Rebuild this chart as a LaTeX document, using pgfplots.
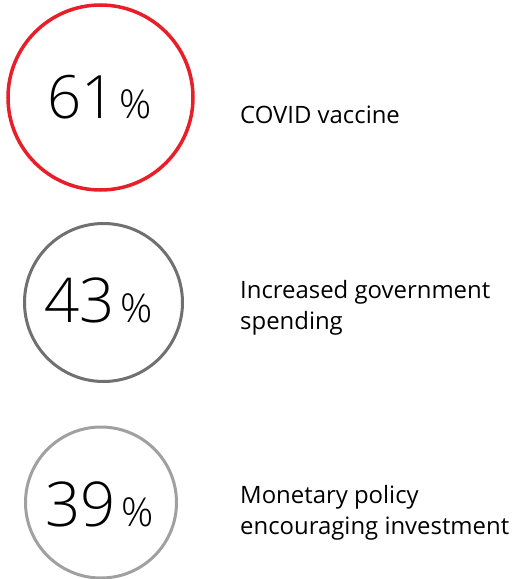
\documentclass[border=0pt]{standalone}
\usepackage{pgfplots}
\pgfplotsset{compat=1.18}
\usepackage{fontspec}
\setmainfont{Open Sans}
\newfontfamily\lightfont{Open Sans Light}
\definecolor{cred}{RGB}{232,30,40}
\definecolor{cdark}{RGB}{112,112,112}
\definecolor{clight}{RGB}{160,160,160}
\begin{document}
\begin{tikzpicture}
\useasboundingbox (0,0) rectangle (516bp,579bp);
\begin{axis}[at={(0,0)},anchor=south west,
  width=516bp,height=579bp,scale only axis,
  xmin=0,xmax=516,ymin=0,ymax=579,y dir=reverse,
  hide axis,clip=false]
\addplot[only marks,mark=o,mark size=92.5bp,draw=cred,line width=3.5bp] coordinates {(100.5,97.5)};
\addplot[only marks,mark=o,mark size=79bp,draw=cdark,line width=3bp] coordinates {(103.5,302.5)};
\addplot[only marks,mark=o,mark size=75.5bp,draw=clight,line width=3bp] coordinates {(101,502.5)};
\node[anchor=base west,inner sep=0pt] at (axis cs:47,118) {\lightfont\fontsize{60}{60}\selectfont 61\hspace{4bp}{\fontsize{40}{40}\selectfont\%}};
\node[anchor=base west,inner sep=0pt] at (axis cs:44,322) {\lightfont\fontsize{62}{60}\selectfont 43\hspace{6bp}{\fontsize{40}{40}\selectfont\%}};
\node[anchor=base west,inner sep=0pt] at (axis cs:45,526) {\lightfont\fontsize{62}{60}\selectfont 39\hspace{6bp}{\fontsize{40}{40}\selectfont\%}};
\node[anchor=base west,inner sep=0pt] at (axis cs:240,123) {\fontsize{24}{31}\selectfont COVID vaccine};
\node[anchor=base west,inner sep=0pt] at (axis cs:240,298) {\fontsize{24}{31}\selectfont Increased government};
\node[anchor=base west,inner sep=0pt] at (axis cs:240,329) {\fontsize{24}{31}\selectfont spending};
\node[anchor=base west,inner sep=0pt] at (axis cs:240,503) {\fontsize{24}{31}\selectfont Monetary policy};
\node[anchor=base west,inner sep=0pt] at (axis cs:240,534) {\fontsize{24}{31}\selectfont encouraging investment};
\end{axis}
\end{tikzpicture}
\end{document}
